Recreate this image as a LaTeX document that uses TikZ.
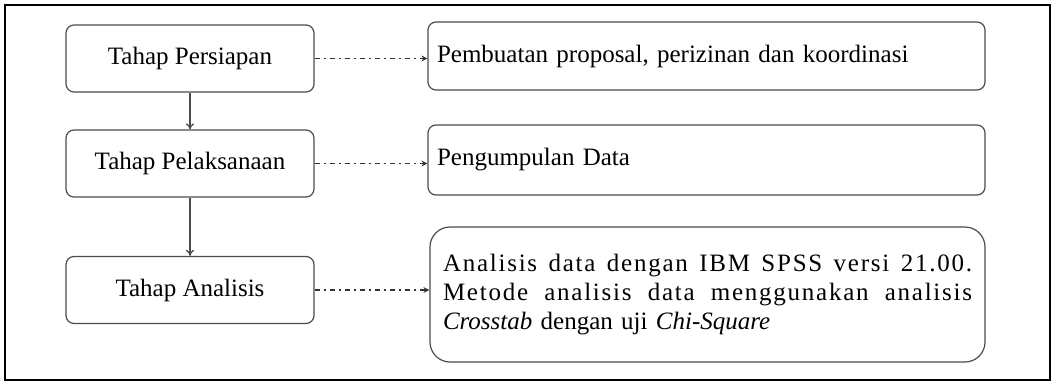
\documentclass[tikz,border=0pt]{standalone}
\usepackage{fontspec}
\setmainfont{Liberation Serif}
\newfontfamily\spacedserif[LetterSpace=7]{Liberation Serif}
\usetikzlibrary{arrows.meta}

\tikzset{
  stage/.style={draw=black!70, line width=1.2pt, rounded corners=8pt,
    minimum width=248pt, minimum height=67pt, align=center},
  detail/.style={draw=black!70, line width=1.2pt, rounded corners=8pt,
    inner xsep=9pt, text width=539pt, align=left},
  flow/.style={draw=black!70, line width=1.3pt, -{To[length=6pt,width=8pt]}},
  link/.style={draw=black!80, line width=1.3pt,
    dash pattern=on 5pt off 4pt on 2pt off 4pt,
    -{Stealth[length=6pt,width=6pt]}}
}

\begin{document}
\begin{tikzpicture}[x=1pt, y=-1pt, font=\fontsize{25}{29}\selectfont]
  \useasboundingbox (0,0) rectangle (1054,383);
  \draw[line width=2.8pt] (5,5) rectangle (1050,380);

  \node[stage] (prep) at (190, 58.5) {Tahap Persiapan};
  \node[stage] (exec) at (190, 163.5) {Tahap Pelaksanaan};
  \node[stage] (anal) at (190, 290) {Tahap Analisis};

  \node[detail, minimum height=68pt] (prepd) at (706.5, 56)
    {Pembuatan proposal, perizinan dan koordinasi};
  \node[detail, minimum height=70pt] (execd) at (706.5, 160)
    {Pengumpulan Data};
  \node[detail, rounded corners=20pt, inner xsep=13pt, text width=529pt,
    minimum height=135pt] (anald) at (707.5, 294.5)
    {\makebox[529pt][l]{\spacedserif Analisis\hfill data\hfill dengan\hfill IBM\hfill
       SPSS\hfill versi\hfill 21.00.}\\
     \makebox[529pt][l]{\spacedserif Metode\hfill analisis\hfill data\hfill
       menggunakan\hfill analisis}\\
     \textit{Crosstab} dengan uji \textit{Chi-Square}};

  \draw[flow] (prep) -- (exec);
  \draw[flow] (exec) -- (anal);

  \draw[link] (prep.east) -- (prep.east -| prepd.west);
  \draw[link] (exec.east) -- (exec.east -| execd.west);
  \draw[link] (anal.east) -- (anal.east -| anald.west);
\end{tikzpicture}
\end{document}
